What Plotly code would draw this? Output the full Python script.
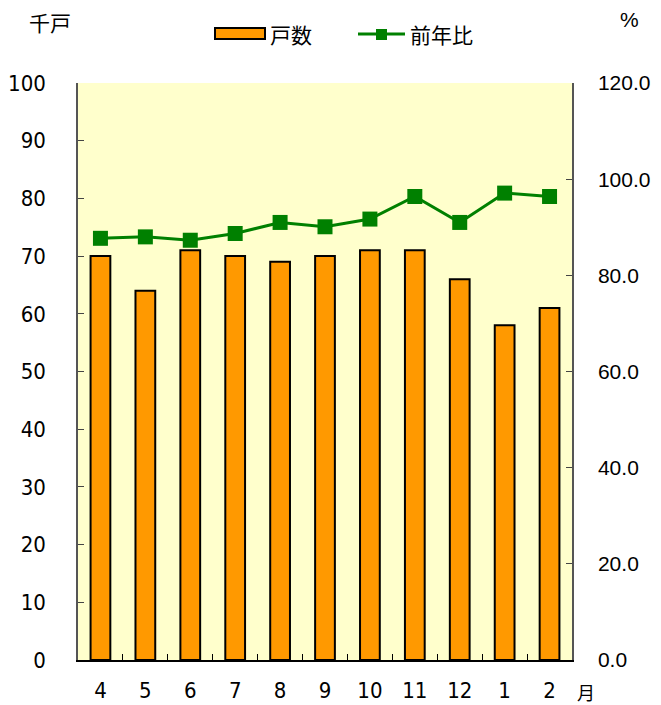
import plotly.graph_objects as go

# Monthly housing units (thousand) and year-on-year ratio (%)
months = ["4", "5", "6", "7", "8", "9", "10", "11", "12", "1", "2"]
units = [70, 64, 71, 70, 69, 70, 71, 71, 66, 58, 61]
yoy_ratio = [87.7, 88.0, 87.3, 88.7, 91.0, 90.1, 91.7, 96.4, 91.0, 97.1, 96.4]

left_ticks = list(range(0, 101, 10))
right_ticks = list(range(0, 121, 20))

BAR_COLOR = "#FF9900"
LINE_COLOR = "#008000"
BG_COLOR = "#FFFFCC"
JP_FONT = "Noto Sans CJK JP"
NUM_FONT = "DejaVu Sans Condensed, Liberation Sans"
LAT_FONT = "Liberation Sans, Arial"

fig = go.Figure()
fig.add_trace(go.Bar(
    x=months, y=units, name="戸数",
    marker=dict(color=BAR_COLOR, line=dict(color="#000000", width=2)),
    yaxis="y",
))
fig.add_trace(go.Scatter(
    x=months, y=yoy_ratio, name="前年比", mode="lines+markers",
    line=dict(color=LINE_COLOR, width=3),
    marker=dict(symbol="square", size=15, color=LINE_COLOR),
    yaxis="y2",
))

fig.update_layout(
    width=661, height=705,
    margin=dict(l=78, r=89, t=83, b=45),
    paper_bgcolor="#FFFFFF",
    plot_bgcolor=BG_COLOR,
    showlegend=False,
    bargap=0.56,
    xaxis=dict(
        type="category", tickson="boundaries", range=[-0.5, len(months) - 0.5],
        automargin=False,
        ticks="inside", ticklen=6, tickcolor="#000000",
        showline=True, linecolor="#000000", linewidth=1.5,
        showgrid=False,
        tickfont=dict(family=NUM_FONT, size=22, color="#000000"),
        ticklabelstandoff=10,
    ),
    yaxis=dict(
        range=[0, 100], tickvals=left_ticks, automargin=False,
        ticks="inside", ticklen=6, tickcolor="#444444",
        showline=True, linecolor="#555555", linewidth=1.5,
        showgrid=False, zeroline=False,
        tickfont=dict(family=NUM_FONT, size=22, color="#000000"),
        ticklabelstandoff=26,
    ),
    yaxis2=dict(
        range=[0, 120], tickvals=right_ticks, tickformat=".1f",
        overlaying="y", side="right", automargin=False,
        ticks="inside", ticklen=6, tickcolor="#444444",
        showline=True, linecolor="#555555", linewidth=1.5,
        showgrid=False, zeroline=False,
        tickfont=dict(family=LAT_FONT, size=21, color="#000000"),
        ticklabelstandoff=20,
    ),
)

# Hand-drawn legend and unit labels in pixel-aligned paper coordinates
W, H = 661, 705
pw, ph = W - 78 - 89, H - 83 - 45


def px(x):
    return (x - 78) / pw


def py(y):
    return (H - 45 - y) / ph


fig.add_shape(type="rect", xref="paper", yref="paper",
              x0=px(215), x1=px(265), y0=py(39), y1=py(28),
              fillcolor=BAR_COLOR, line=dict(color="#000000", width=2))
fig.add_shape(type="line", xref="paper", yref="paper",
              x0=px(358), x1=px(405), y0=py(34), y1=py(34),
              line=dict(color=LINE_COLOR, width=3))
fig.add_shape(type="rect", xref="paper", yref="paper",
              x0=px(376), x1=px(387), y0=py(40), y1=py(29),
              fillcolor=LINE_COLOR, line=dict(color=LINE_COLOR, width=0))

annotations = [
    dict(text="戸数", x=px(268), y=py(34), xanchor="left", font=dict(family=JP_FONT, size=21)),
    dict(text="前年比", x=px(408), y=py(34), xanchor="left", font=dict(family=JP_FONT, size=21)),
    dict(text="千戸", x=px(50), y=py(22), xanchor="center", font=dict(family=JP_FONT, size=21)),
    dict(text="%", x=px(629), y=py(19), xanchor="center", font=dict(family=LAT_FONT, size=21)),
    dict(text="月", x=px(586), y=py(692), xanchor="center", font=dict(family=JP_FONT, size=18)),
]
for a in annotations:
    fig.add_annotation(xref="paper", yref="paper", yanchor="middle", showarrow=False, **a)
for a in fig.layout.annotations:
    a.font.color = "#000000"

fig.write_html("out.html")
